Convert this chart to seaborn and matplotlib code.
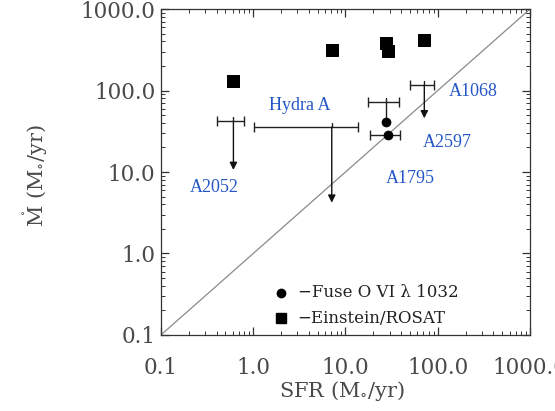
import matplotlib
matplotlib.use("Agg")
import matplotlib.pyplot as plt
import seaborn as sns
import pandas as pd

# Einstein/ROSAT cooling flow rates (squares)
sq_sfr = [0.61, 7.1, 27.5, 28.7, 71.5]
sq_mdot = [131, 314, 386, 305, 413]

# FUSE O VI detections (circles) for A1795
fuse_sfr = [27.5, 28.7]
fuse_mdot = [40.7, 28.5]
fuse_sfr_lo = [18.5]
fuse_sfr_hi = [39.0]

# FUSE upper limits: A2052, Hydra A, A1068
lim_sfr = [0.61, 7.1, 71.5]
lim_mdot = [42.5, 35.7, 117]
lim_sfr_lo = [0.41, 1.03, 50]
lim_sfr_hi = [0.80, 13.6, 92]
lim_tip = [10.6, 4.2, 45.6]

# A1795 upper bar tied to its upper circle
a1795_sfr = 27.5
a1795_top = 71.6
a1795_lo = 17.4
a1795_hi = 38.3

names = ["A1068", "Hydra A", "A2597", "A1795", "A2052"]
name_x = [241, 3.2, 126, 50, 0.376]
name_y = [98.6, 66.4, 22.7, 8.4, 6.4]

ticks = [0.1, 1, 10, 100, 1000]
tick_labels = ["0.1", "1.0", "10.0", "100.0", "1000.0"]

sns.set_style("ticks")
plt.rcParams["font.family"] = ["DejaVu Serif"]
plt.rcParams["mathtext.fontset"] = "dejavuserif"

fig = plt.figure(figsize=(5.55, 4.11), dpi=100)
ax = fig.add_axes([0.290, 0.185, 0.665, 0.793])
ax.set_xscale("log")
ax.set_yscale("log")
ax.set_xlim(0.1, 1000)
ax.set_ylim(0.1, 1000)

# one-to-one line
ax.plot([0.1, 1000], [0.1, 1000], color="#8a8a8a", lw=0.9)

df_sq = pd.DataFrame({"sfr": sq_sfr, "mdot": sq_mdot})
sns.scatterplot(data=df_sq, x="sfr", y="mdot", marker="s", s=80, color="black",
                edgecolor="black", ax=ax, zorder=5)
df_c = pd.DataFrame({"sfr": fuse_sfr, "mdot": fuse_mdot})
sns.scatterplot(data=df_c, x="sfr", y="mdot", marker="o", s=42, color="black",
                edgecolor="black", ax=ax, zorder=5)

ebkw = dict(fmt="none", ecolor="#222222", elinewidth=1.0, capsize=3.5, capthick=1.0)

# upper limits with horizontal bars and arrows
for x, y, lo, hi, tip in zip(lim_sfr, lim_mdot, lim_sfr_lo, lim_sfr_hi, lim_tip):
    ax.errorbar([x], [y], xerr=[[x - lo], [hi - x]], **ebkw)
    ax.plot([x, x], [y * 1.12, y], color="#222222", lw=1.0)
    ax.annotate("", xy=(x, tip), xytext=(x, y),
                arrowprops=dict(arrowstyle="-|>", color="#111111", lw=1.0,
                                mutation_scale=11, shrinkA=0, shrinkB=0))

# A1795
ax.errorbar([a1795_sfr], [a1795_top], xerr=[[a1795_sfr - a1795_lo], [a1795_hi - a1795_sfr]], **ebkw)
ax.plot([a1795_sfr, a1795_sfr], [a1795_top * 1.12, fuse_mdot[0]], color="#222222", lw=1.0)
ax.errorbar([fuse_sfr[1]], [fuse_mdot[1]],
            xerr=[[fuse_sfr[1] - fuse_sfr_lo[0]], [fuse_sfr_hi[0] - fuse_sfr[1]]], **ebkw)

for n, x, y in zip(names, name_x, name_y):
    ax.text(x, y, n, color="#2456c8", fontsize=13, family=["Liberation Serif"],
            ha="center", va="center")

# legend drawn as text
ax.plot([0.325], [0.129], "o", color="black", ms=6, transform=ax.transAxes)
ax.plot([0.325], [0.052], "s", color="black", ms=7.5, transform=ax.transAxes)
ax.text(0.370, 0.129, "\u2212Fuse O VI \u03bb 1032", transform=ax.transAxes,
        fontsize=12, va="center", color="#222222")
ax.text(0.370, 0.052, "\u2212Einstein/ROSAT", transform=ax.transAxes,
        fontsize=12, va="center", color="#222222")

ax.set_xticks(ticks)
ax.set_xticklabels(tick_labels)
ax.set_yticks(ticks)
ax.set_yticklabels(tick_labels)
ax.tick_params(which="both", direction="in", top=True, right=True,
               labelsize=15.5, labelcolor="#4a4a4a", color="#333333")
ax.tick_params(which="major", length=6, width=0.9)
ax.tick_params(axis="x", which="major", pad=16)
ax.tick_params(axis="y", which="major", pad=4)
ax.tick_params(which="minor", length=3, width=0.7)
for sp in ax.spines.values():
    sp.set_linewidth(0.9)
    sp.set_color("#333333")

ax.set_xlabel(r"SFR (M$_{\circ}$/yr)", fontsize=15, color="#4a4a4a")
ax.set_ylabel(r"$\mathring{\mathrm{M}}$ (M$_{\circ}$/yr)", fontsize=15, color="#4a4a4a")
ax.xaxis.set_label_coords(0.49, -0.135)
ax.yaxis.set_label_coords(-0.30, 0.49)

fig.savefig("out.png", dpi=100)
